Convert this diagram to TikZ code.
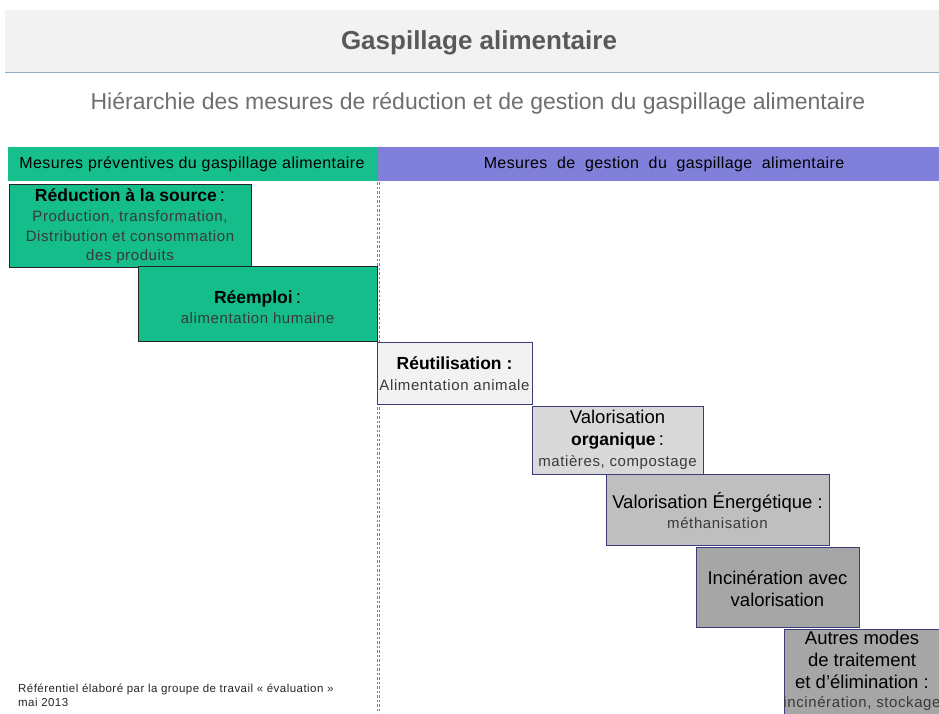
\documentclass[tikz,border=0pt]{standalone}
\usepackage{fontspec}
\setmainfont{Liberation Sans}
\newfontfamily\spacedfont[LetterSpace=4]{Liberation Sans}
\newfontfamily\headfont[LetterSpace=2.5]{Liberation Sans}
\definecolor{bandgray}{HTML}{F2F2F2}
\definecolor{bandline}{HTML}{8EA9C1}
\definecolor{titlegray}{HTML}{595959}
\definecolor{subgray}{HTML}{6E6E6E}
\definecolor{prevgreen}{HTML}{17BF8D}
\definecolor{gestpurple}{HTML}{8080DB}
\definecolor{boxgreen}{HTML}{14BD8A}
\definecolor{navy}{HTML}{3C3C78}
\definecolor{g1}{HTML}{F2F2F2}
\definecolor{g2}{HTML}{D9D9D9}
\definecolor{g3}{HTML}{BFBFBF}
\definecolor{g4}{HTML}{A6A6A6}
\definecolor{g5}{HTML}{A6A6A6}
\definecolor{subtext}{HTML}{3A3A3A}
\tikzset{
  stepgreen/.style={draw=black!85, fill=boxgreen, line width=0.8pt, anchor=north west, inner sep=0pt},
  stepgray/.style={draw=navy, line width=0.8pt, anchor=north west, inner sep=0pt},
  boxtext/.style={align=center, inner sep=0pt, text=black},
}
\newcommand{\sub}[1]{{\spacedfont\fontsize{15}{19}\selectfont\color{subtext}#1}}
\newcommand{\hb}[1]{{\fontsize{17.5}{19}\selectfont\bfseries #1}}
\newcommand{\hr}[1]{{\fontsize{18.5}{19}\selectfont #1}}
\begin{document}
\begin{tikzpicture}[x=1pt,y=-1pt]
\useasboundingbox (0,0) rectangle (939,713);
\clip (0,0) rectangle (939,713);
% header band
\fill[bandgray] (5,10) rectangle (939,72);
\draw[bandline, line width=1.2pt] (5,72.5) -- (939,72.5);
\node[text=titlegray, font=\fontsize{26}{30}\selectfont\bfseries] (title) at (479,43) {Gaspillage alimentaire};
\node[text=subgray, font=\fontsize{23}{27}\selectfont] (subtitle) at (478,103) {Hiérarchie des mesures de réduction et de gestion du gaspillage alimentaire};
% column header bar
\fill[prevgreen] (8,147) rectangle (378,181);
\fill[gestpurple] (378,147) rectangle (939,181);
\node[font=\headfont\fontsize{16}{18}\selectfont] (hprev) at (192,164) {Mesures préventives du gaspillage alimentaire};
\node[font=\headfont\fontsize{16}{18}\selectfont] (hgest) at (664,164) {Mesures\ \ de\ \ gestion\ \ du\ \ gaspillage\ \ alimentaire};
% dotted separator
\coordinate (sepA) at (377,182);
\coordinate (sepB) at (377,713);
\coordinate (sepC) at (379.5,182);
\coordinate (sepD) at (379.5,713);
\draw[gray, line width=0.6pt, dash pattern=on 2.5pt off 2pt] (sepA) -- (sepB);
\draw[gray, line width=0.6pt, dash pattern=on 2.5pt off 2pt] (sepC) -- (sepD);
% step boxes
\node[stepgreen, minimum width=242pt, minimum height=83pt] (b1) at (9,184) {};
\node[boxtext, font=\fontsize{15}{19.6}\selectfont] (t1) at (130,226.5) {\hb{Réduction à la source}\hr{\,:}\\
\sub{Production, transformation,}\\ \sub{Distribution et consommation}\\ \sub{des produits}};
\node[stepgreen, minimum width=239pt, minimum height=75pt] (b2) at (138,266) {};
\node[boxtext, font=\fontsize{15}{20}\selectfont] (t2) at (257.5,307.5) {\hb{Réemploi}\hr{\,:}\\ \sub{alimentation humaine}};
\node[stepgray, fill=g1, minimum width=155pt, minimum height=62pt] (b3) at (377,342) {};
\node[boxtext, font=\fontsize{15}{21}\selectfont] (t3) at (454.5,374) {\hb{Réutilisation :}\\ \sub{Alimentation animale}};
\node[stepgray, fill=g2, minimum width=171pt, minimum height=68pt] (b4) at (532,406) {};
\node[boxtext, font=\fontsize{15}{21.5}\selectfont] (t4) at (617.5,440) {\hr{Valorisation}\\ \hb{organique}\hr{\,:}\\ \sub{matières, compostage}};
\node[stepgray, fill=g3, minimum width=223pt, minimum height=71pt] (b5) at (606,474) {};
\node[boxtext, font=\fontsize{15}{20}\selectfont] (t5) at (717.5,511) {\hr{Valorisation Énergétique :}\\ \sub{méthanisation}};
\node[stepgray, fill=g4, minimum width=163pt, minimum height=80pt] (b6) at (696,547) {};
\node[boxtext, font=\fontsize{18.5}{22}\selectfont] (t6) at (777.5,589) {Incinération avec\\ valorisation};
\node[stepgray, fill=g5, minimum width=165pt, minimum height=95pt] (b7) at (784,629) {};
\node[boxtext, anchor=north, font=\fontsize{15}{22}\selectfont] (t7) at (862,631) {\hr{Autres modes}\\ \hr{de traitement}\\ \hr{et d’élimination :}\\[-3pt] \sub{incinération, stockage}};
% footer
\node[anchor=north west, align=left, inner sep=0pt, font=\spacedfont\fontsize{11.5}{14}\selectfont, text=black!85] (foot) at (18,684) {Référentiel élaboré par la groupe de travail « évaluation »\\ mai 2013};
\end{tikzpicture}
\end{document}
